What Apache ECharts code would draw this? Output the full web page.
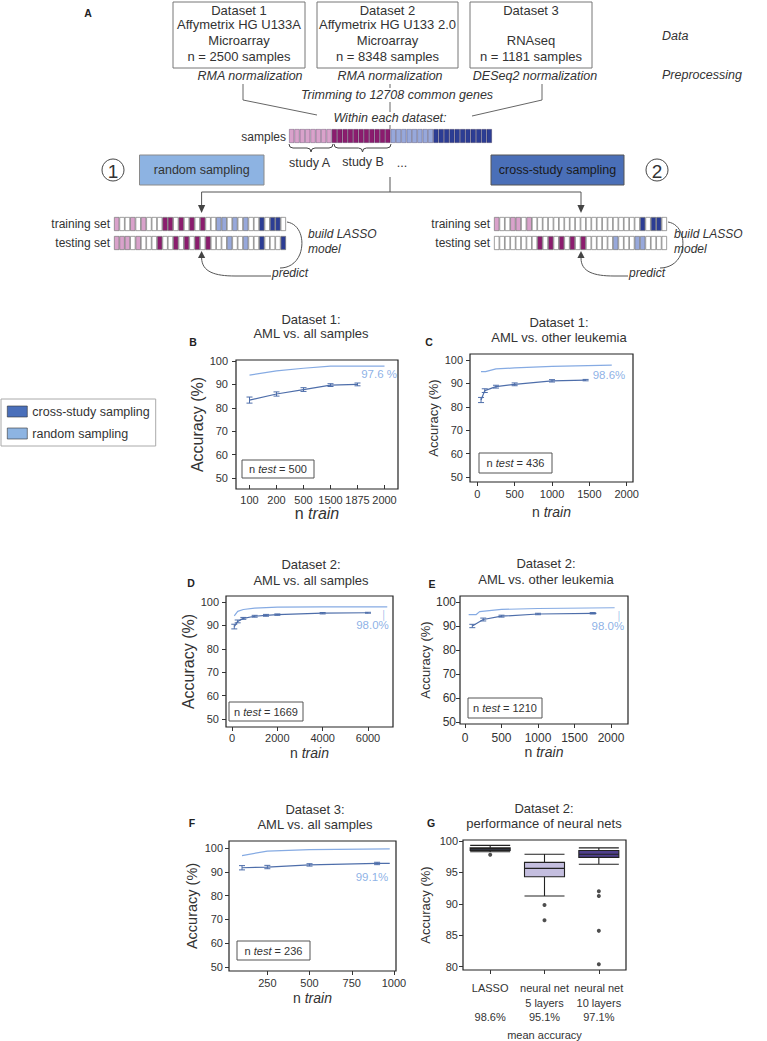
<!DOCTYPE html>
<html>
<head>
<meta charset="utf-8">
<script src="https://cdn.jsdelivr.net/npm/echarts@6.0.0/dist/echarts.min.js"></script>
<style>
html,body{margin:0;padding:0;background:#fff;}
#chart{width:767px;height:1041px;}
</style>
</head>
<body>
<div id="chart"></div>
<script>
// ================= DATA =================
// Panel A texts
const datasetNames   = ['Dataset 1', 'Dataset 2', 'Dataset 3'];
const platforms      = ['Affymetrix HG U133A', 'Affymetrix HG U133 2.0', ''];
const dataTypes      = ['Microarray', 'Microarray', 'RNAseq'];
const sampleCounts   = ['n = 2500 samples', 'n = 8348 samples', 'n = 1181 samples'];
const normalizations = ['RMA normalization', 'RMA normalization', 'DESeq2 normalization'];
// Panel A sample strips (P light pink, M magenta, L light blue, D dark blue, W white)
const samplesCells    = 'PPPPPPPPMMMMMMMMMMMLLLLLLLLDDDDDDDDDDD';
const trainRandCells  = 'PWWPWPWWWMMWMWMWMWWLLWLWLWWDWDDW';
const testRandCells   = 'PPPWPWWWMWWMWMWMWMWWWLWWLWWDWWWD';
const trainCrossCells = 'PWWPPWPWWWWWWWWWWWWWWWWWWWWDWDDW';
const testCrossCells  = 'WWWWWWWWMWMWMWMWMWWWWWLWWWLLWWWW';

// Panel B (category x)
const B_cats = ['100', '200', '500', '1500', '1875', '2000'];
const B_random = [94.0, 95.8, 96.9, 97.8, 97.8, 97.8];
const B_cross = [83.3, 85.9, 87.8, 89.7, 90.0];
const B_crossErr = [1.3, 0.9, 0.8, 0.6, 0.6];
const B_label = '97.6 %', B_ntest = '500';

// Panel C
const C_random = [[50, 95.0], [110, 95.0], [250, 96.2], [500, 96.6], [1000, 97.3], [1800, 97.8]];
const C_cross = [[50, 82.9], [100, 86.9], [250, 88.6], [500, 89.6], [1000, 91.1], [1450, 91.4]];
const C_crossErr = [1.1, 0.8, 0.6, 0.6, 0.5, 0.3];
const C_label = '98.6%', C_ntest = '436';

// Panel D
const D_random = [[100, 94.1], [250, 96.0], [500, 96.8], [1000, 97.4], [2000, 97.8], [4000, 97.9], [6850, 97.9]];
const D_cross = [[100, 89.5], [250, 91.7], [500, 93.0], [1000, 93.9], [1500, 94.3], [2000, 94.6], [4000, 95.2], [6000, 95.4]];
const D_crossErr = [1.0, 0.6, 0.4, 0.4, 0.4, 0.3, 0.3, 0.2];
const D_label = '98.0%', D_ntest = '1669';

// Panel E
const E_random = [[50, 94.7], [150, 94.7], [200, 96.0], [500, 96.9], [1000, 97.3], [2050, 97.6]];
const E_cross = [[100, 90.0], [250, 92.7], [500, 94.1], [1000, 95.0], [1750, 95.3], [1800, 95.3]];
const E_crossErr = [0.7, 0.6, 0.4, 0.3, 0.3, 0];
const E_label = '98.0%', E_ntest = '1210';

// Panel F
const F_random = [[100, 96.8], [250, 98.7], [500, 99.3], [975, 99.6]];
const F_cross = [[100, 91.7], [250, 92.0], [500, 92.9], [900, 93.5], [975, 93.5]];
const F_crossErr = [0.9, 0.7, 0.5, 0.5, 0];
const F_label = '99.1%', F_ntest = '236';

// Panel G
const G_cats = ['LASSO', 'neural net\n5 layers', 'neural net\n10 layers'];
const G_mean = ['98.6%', '95.1%', '97.1%'];
const G_box = [[98.3, 98.5, 98.7, 98.9, 99.3], [91.25, 94.3, 95.65, 96.6, 97.9], [96.3, 97.4, 97.9, 98.5, 98.9]];
const G_out = [[0, 97.8], [1, 89.8], [1, 87.4], [2, 92.0], [2, 91.25], [2, 85.7], [2, 80.4]];

const yTicks = [50, 60, 70, 80, 90, 100];
const G_yTicks = [80, 85, 90, 95, 100];

// ================= STYLE =================
const FONT = 'Liberation Sans';
const CSSFONT = "'Liberation Sans', Arial, sans-serif";
const TXT = '#333';
const LIGHT = '#86abe3';
const DARK = '#4e6eaa';
const LABELC = '#6f9de0';
const CELL = {P: '#d9a2cb', M: '#8b1c6e', L: '#97a8db', D: '#2c3d94', W: '#ffffff'};
const G_colors = ['#5d6890', '#c4bedf', '#4f3f8c'];

const grids = [], xAxis = [], yAxis = [], series = [], g = [];

// ---------- helpers ----------
function T(x, y, text, o) {
  o = o || {};
  const st = {text: text, fill: o.color || TXT,
      font: (o.it ? 'italic ' : '') + (o.b ? 'bold ' : '') + (o.size || 13) + 'px ' + CSSFONT,
      align: o.align || 'center', verticalAlign: 'middle'};
  if (o.rich) st.rich = o.rich;
  return {type: 'text', x: x, y: y, silent: true, z: 20, style: st};
}
function R(x, y, w, h, fill, stroke, lw) {
  return {type: 'rect', silent: true, z: 5, shape: {x: x, y: y, width: w, height: h}, style: {fill: fill, stroke: stroke, lineWidth: lw || 1}};
}
function L(x1, y1, x2, y2, c, lw) {
  return {type: 'line', silent: true, z: 5, shape: {x1: x1, y1: y1, x2: x2, y2: y2}, style: {stroke: c || '#555', lineWidth: lw || 1}};
}
function BZ(x1, y1, cx1, cy1, a, b, c, d, col) {
  const shape = (c === undefined || c === null)
    ? {x1: x1, y1: y1, cpx1: cx1, cpy1: cy1, x2: a, y2: b}
    : {x1: x1, y1: y1, cpx1: cx1, cpy1: cy1, cpx2: a, cpy2: b, x2: c, y2: d};
  return {type: 'bezierCurve', silent: true, z: 5, shape: shape, style: {fill: null, stroke: col || '#555', lineWidth: 1}};
}
function brace(x1, x2, y) {
  const m = (x1 + x2) / 2, c = '#444';
  g.push(BZ(x1, y, x1, y + 4, x1 + 4, y + 4, null, null, c));
  g.push(L(x1 + 4, y + 4, m - 4, y + 4, c));
  g.push(BZ(m - 4, y + 4, m, y + 4, m, y + 8, null, null, c));
  g.push(BZ(m, y + 8, m, y + 4, m + 4, y + 4, null, null, c));
  g.push(L(m + 4, y + 4, x2 - 4, y + 4, c));
  g.push(BZ(x2 - 4, y + 4, x2, y + 4, x2, y, null, null, c));
}
function TRI(pts, c) {
  return {type: 'polygon', silent: true, z: 6, shape: {points: pts}, style: {fill: c || '#444'}};
}
function CIRC(cx, cy, r, label) {
  g.push({type: 'circle', silent: true, z: 5, shape: {cx: cx, cy: cy, r: r}, style: {fill: '#fff', stroke: '#444', lineWidth: 1}});
  g.push(T(cx, cy + 1, label, {size: 19}));
}

function addStrip(left, top, width, height, cells, border) {
  const gi = grids.length;
  grids.push({left: left, top: top, width: width, height: height});
  const arr = cells.split('');
  xAxis.push({gridIndex: gi, type: 'category', data: arr.map(function (c, i) { return i; }), show: false});
  yAxis.push({gridIndex: gi, type: 'value', min: 0, max: 1, show: false});
  series.push({type: 'bar', xAxisIndex: gi, yAxisIndex: gi, barWidth: '100%', silent: true,
    data: arr.map(function (c) { return {value: 1, itemStyle: {color: CELL[c], borderColor: border, borderWidth: 0.7}}; })});
}

function addGrid(rect) {
  const gi = grids.length;
  grids.push({left: rect[0], top: rect[1], width: rect[2], height: rect[3], show: true, borderColor: '#222', borderWidth: 1.2});
  return gi;
}
function plain(v) { return String(v); }
function yAx(gi, min, max, ticks, margin, nameGap, nameSize, labelSize) {
  return {gridIndex: gi, type: 'value', min: min, max: max,
    axisLine: {show: false, onZero: false},
    axisTick: {show: true, length: 4, lineStyle: {color: '#333', width: 1}, customValues: ticks},
    axisLabel: {customValues: ticks, fontSize: labelSize || 11, color: TXT, margin: margin, fontFamily: FONT, formatter: plain},
    splitLine: {show: false},
    name: 'Accuracy (%)', nameLocation: 'middle', nameGap: nameGap,
    nameTextStyle: {fontSize: nameSize || 13, color: TXT, fontFamily: FONT}};
}
function xValAx(gi, min, max, ticks, margin, nameGap, nameSize, labelSize) {
  const ns = nameSize || 14;
  return {gridIndex: gi, type: 'value', min: min, max: max,
    axisLine: {show: false, onZero: false},
    axisTick: {show: true, length: 4, lineStyle: {color: '#333'}, customValues: ticks},
    axisLabel: {customValues: ticks, fontSize: labelSize || 11, color: TXT, margin: margin, fontFamily: FONT, formatter: plain},
    splitLine: {show: false},
    name: 'n {it|train}', nameLocation: 'middle', nameGap: nameGap,
    nameTextStyle: {fontSize: ns, color: TXT, fontFamily: FONT, rich: {it: {fontStyle: 'italic', fontSize: ns, color: TXT, fontFamily: FONT}}}};
}
function lineS(gi, name, data, color, w) {
  return {type: 'line', name: name, xAxisIndex: gi, yAxisIndex: gi, data: data, symbol: 'none', silent: true,
    lineStyle: {color: color, width: w || 1.2}, itemStyle: {color: color}, z: 3};
}
function errS(gi, pts, errs) {
  const data = [];
  pts.forEach(function (p, i) {
    if (errs[i] > 0) data.push([p[0], p[1] - errs[i], p[1] + errs[i]]);
  });
  return {type: 'custom', xAxisIndex: gi, yAxisIndex: gi, data: data, silent: true, z: 4,
    encode: {x: 0, y: [1, 2]},
    renderItem: function (params, api) {
      const x = api.value(0), lo = api.value(1), hi = api.value(2);
      const a = api.coord([x, lo]), b = api.coord([x, hi]);
      const w = 3, st = {stroke: DARK, lineWidth: 1};
      return {type: 'group', children: [
        {type: 'line', shape: {x1: a[0], y1: a[1], x2: b[0], y2: b[1]}, style: st},
        {type: 'line', shape: {x1: a[0] - w, y1: a[1], x2: a[0] + w, y2: a[1]}, style: st},
        {type: 'line', shape: {x1: b[0] - w, y1: b[1], x2: b[0] + w, y2: b[1]}, style: st}]};
    }};
}
function annot(gi, pt, text, off, leader) {
  return {type: 'scatter', xAxisIndex: gi, yAxisIndex: gi, data: [pt], symbolSize: 1, silent: true,
    itemStyle: {color: 'rgba(0,0,0,0)'}, z: 6,
    label: {show: true, formatter: leader ? '{t|│}\n' + text : text, position: off, align: 'right', verticalAlign: 'middle',
      color: LABELC, fontSize: 11.5, fontFamily: FONT, lineHeight: 11,
      rich: {t: {color: LABELC, fontSize: 9, lineHeight: 9, align: 'right', padding: [0, 2, 0, 0]}}}};
}
function ntestBox(x, y, w, h, n) {
  g.push(R(x, y, w, h, '#fff', '#555', 1));
  g.push(T(x + w / 2, y + h / 2, '{a|n }{b|test}{a| = ' + n + '}', {size: 11,
    rich: {a: {fontSize: 11, fill: TXT, fontFamily: FONT}, b: {fontSize: 11, fontStyle: 'italic', fill: TXT, fontFamily: FONT}}}));
}
function titles(cx, y1, y2, t1, t2, letter, lx, ly) {
  g.push(T(cx, y1, t1, {size: 13}));
  g.push(T(cx, y2, t2, {size: 13}));
  g.push(T(lx, ly, letter, {size: 10.5, b: true, color: '#222'}));
}

// ================= PANEL A =================
g.push(T(88, 13, 'A', {size: 10.5, b: true, color: '#222'}));
const boxX = [173, 317, 470], boxW = [132, 141, 122];
for (let i = 0; i < 3; i++) {
  g.push(R(boxX[i], 2, boxW[i], 66, '#fff', '#777'));
  const cx = boxX[i] + boxW[i] / 2;
  g.push(T(cx, 10, datasetNames[i]));
  if (platforms[i]) g.push(T(cx, 24, platforms[i]));
  g.push(T(cx, 40, dataTypes[i]));
  g.push(T(cx, 56, sampleCounts[i]));
}
g.push(T(662, 36, 'Data', {it: true, size: 12.5, align: 'left'}));
g.push(T(662, 75, 'Preprocessing', {it: true, size: 12.5, align: 'left'}));
const normX = [250, 390, 535];
for (let i = 0; i < 3; i++) g.push(T(normX[i], 76, normalizations[i], {it: true, size: 12.5}));
g.push(T(397, 95, 'Trimming to 12708 common genes', {it: true, size: 12.5}));
g.push(L(243, 84, 243, 100, '#666'));
g.push(L(243, 100, 317, 115, '#666'));
g.push(L(542, 84, 542, 100, '#666'));
g.push(L(542, 100, 472, 116, '#666'));
g.push(L(390, 84, 390, 88, '#666'));
g.push(L(390, 102, 390, 112, '#666'));
g.push(L(390, 125, 390, 129, '#666'));
g.push(T(390, 118, 'Within each dataset:', {it: true, size: 12.5}));
g.push(T(286, 137, 'samples', {size: 12, align: 'right'}));
brace(289, 333, 144);
brace(334, 391, 144);
g.push(T(309.5, 163, 'study A', {size: 12.5}));
g.push(T(363, 162, 'study B', {size: 12.5}));
g.push(T(402, 163, '...', {size: 12.5}));
CIRC(113, 170, 11, '1');
CIRC(657, 170, 11, '2');
g.push(R(139.5, 155, 124.5, 30, '#8db3e2', '#8a8a8a'));
g.push(T(201.75, 170, 'random sampling', {size: 12.5}));
g.push(R(491, 155, 133, 30, '#4a6fb8', '#555'));
g.push(T(557.5, 170, 'cross-study sampling', {size: 12.5, color: '#1a1a1a'}));
g.push(L(390, 177, 390, 192, '#555'));
g.push(L(201.6, 192, 581, 192, '#555'));
g.push(L(201.6, 192, 201.6, 206, '#555'));
g.push(L(581, 192, 581, 206, '#555'));
g.push(TRI([[198, 205], [205.2, 205], [201.6, 213]]));
g.push(TRI([[577.4, 205], [584.6, 205], [581, 213]]));

g.push(T(110, 224, 'training set', {size: 12, align: 'right'}));
g.push(T(110, 243, 'testing set', {size: 12, align: 'right'}));
g.push(T(490, 224, 'training set', {size: 12, align: 'right'}));
g.push(T(490, 243, 'testing set', {size: 12, align: 'right'}));
g.push(T(308, 234, 'build LASSO', {size: 12, it: true, align: 'left'}));
g.push(T(308, 249, 'model', {size: 12, it: true, align: 'left'}));
g.push(T(674, 234, 'build LASSO', {size: 12, it: true, align: 'left'}));
g.push(T(674, 249, 'model', {size: 12, it: true, align: 'left'}));
g.push(T(272, 273, 'predict', {size: 12, it: true, align: 'left'}));
g.push(T(629, 273, 'predict', {size: 12, it: true, align: 'left'}));
g.push(BZ(287, 222, 300, 224, 305, 240, 300, 254));
g.push(BZ(300, 254, 296, 264, 288, 268, 280, 268));
g.push(BZ(201.6, 258, 202, 272, 215, 276, 235, 276));
g.push(L(235, 276, 271, 276));
g.push(TRI([[198, 258], [205.2, 258], [201.6, 251]]));
g.push(BZ(668, 222, 681, 224, 686, 240, 681, 254));
g.push(BZ(681, 254, 677, 264, 668, 268, 660, 268));
g.push(BZ(581, 258, 581, 272, 594, 276, 614, 276));
g.push(L(614, 276, 628, 276));
g.push(TRI([[577.4, 258], [584.6, 258], [581, 251]]));

addStrip(289, 129, 203, 14, samplesCells, 'rgba(40,30,60,0.45)');
addStrip(114, 217, 172, 14, trainRandCells, '#777');
addStrip(114, 236, 172, 14, testRandCells, '#777');
addStrip(494, 217, 173, 14, trainCrossCells, '#777');
addStrip(494, 236, 173, 14, testCrossCells, '#777');

// ================= PANEL B =================
let gi = addGrid([236, 360, 162, 129]);
xAxis.push({gridIndex: gi, type: 'category', data: B_cats, boundaryGap: true,
  axisLine: {show: false, onZero: false},
  axisTick: {show: true, inside: true, alignWithLabel: true, length: 4, lineStyle: {color: '#333'}},
  axisLabel: {fontSize: 11, color: TXT, margin: 5, fontFamily: FONT, interval: 0},
  splitLine: {show: false},
  name: 'n {it|train}', nameLocation: 'middle', nameGap: 15,
  nameTextStyle: {fontSize: 16, color: TXT, fontFamily: FONT, rich: {it: {fontStyle: 'italic', fontSize: 16, color: TXT, fontFamily: FONT}}}});
yAxis.push(yAx(gi, 45.3, 100.43, yTicks, 8, 30, 16));
series.push(lineS(gi, 'random sampling', B_random, LIGHT));
series.push(lineS(gi, 'cross-study sampling', B_cross, DARK));
series.push(errS(gi, B_cross.map(function (v, i) { return [i, v]; }), B_crossErr));
series.push(annot(gi, [5, 97.8], B_label, [13, 8]));
titles(311, 319, 333, 'Dataset 1:', 'AML vs. all samples', 'B', 193, 342);
ntestBox(242, 460, 72, 18, B_ntest);

// ================= PANEL C =================
gi = addGrid([470, 354, 163, 128]);
xAxis.push(xValAx(gi, -97.7, 2084, [0, 500, 1000, 1500, 2000], 6, 23));
yAxis.push(yAx(gi, 47.86, 102.56, yTicks, 7, 30));
series.push(lineS(gi, 'random sampling', C_random, LIGHT));
series.push(lineS(gi, 'cross-study sampling', C_cross, DARK));
series.push(errS(gi, C_cross, C_crossErr));
series.push(annot(gi, [1800, 97.8], C_label, [14, 10]));
titles(559, 322, 337, 'Dataset 1:', 'AML vs. other leukemia', 'C', 429, 342);
ntestBox(479, 453, 73, 20, C_ntest);

// ================= PANEL D =================
gi = addGrid([226, 596, 167, 131]);
xAxis.push(xValAx(gi, -265, 7103, [0, 2000, 4000, 6000], 5, 19));
yAxis.push(yAx(gi, 46.58, 102.56, yTicks, 7, 25, 16));
series.push(lineS(gi, 'random sampling', D_random, LIGHT));
series.push(lineS(gi, 'cross-study sampling', D_cross, DARK));
series.push(errS(gi, D_cross, D_crossErr));
series.push(annot(gi, [6850, 97.9], D_label, [2, 14], true));
titles(311, 564, 580, 'Dataset 2:', 'AML vs. all samples', 'D', 191, 583);
ntestBox(229, 702, 74, 19, D_ntest);

// ================= PANEL E =================
gi = addGrid([460, 596, 168, 128]);
xAxis.push(xValAx(gi, -68.5, 2233, [0, 500, 1000, 1500, 2000], 8, 21, 14, 12));
yAxis.push(yAx(gi, 49.17, 102.5, yTicks, 4, 25, 13, 12));
series.push(lineS(gi, 'random sampling', E_random, LIGHT));
series.push(lineS(gi, 'cross-study sampling', E_cross, DARK));
series.push(errS(gi, E_cross, E_crossErr));
series.push(annot(gi, [2050, 97.6], E_label, [10, 14], true));
titles(546, 563, 579, 'Dataset 2:', 'AML vs. other leukemia', 'E', 432, 584);
ntestBox(468, 698, 74, 20, E_ntest);

// ================= PANEL F =================
gi = addGrid([229, 841, 167, 130]);
xAxis.push(xValAx(gi, 23, 1012, [250, 500, 750, 1000], 6, 20));
yAxis.push(yAx(gi, 48.32, 102.94, yTicks, 6, 30, 14.5));
series.push(lineS(gi, 'random sampling', F_random, LIGHT));
series.push(lineS(gi, 'cross-study sampling', F_cross, DARK));
series.push(errS(gi, F_cross, F_crossErr));
series.push(annot(gi, [975, 99.6], F_label, [-1, 29]));
titles(315, 809, 824, 'Dataset 3:', 'AML vs. all samples', 'F', 192, 823);
ntestBox(237, 941, 73, 19, F_ntest);

// ================= PANEL G =================
gi = addGrid([463, 840, 163, 130]);
xAxis.push({gridIndex: gi, type: 'category', data: G_cats, boundaryGap: true,
  axisLine: {show: false, onZero: false},
  axisTick: {show: true, alignWithLabel: true, length: 4, lineStyle: {color: '#333'}},
  axisLabel: {fontSize: 11, color: TXT, margin: 11, lineHeight: 14.5, fontFamily: FONT, interval: 0,
    formatter: function (v, i) { return v + (i === 0 ? '\n \n' : '\n') + G_mean[i]; }},
  splitLine: {show: false},
  name: 'mean accuracy', nameLocation: 'middle', nameGap: 59,
  nameTextStyle: {fontSize: 11, color: TXT, fontFamily: FONT}});
yAxis.push(yAx(gi, 79.47, 100.16, G_yTicks, 5, 31));
series.push({type: 'boxplot', xAxisIndex: gi, yAxisIndex: gi, boxWidth: [40, 40], silent: true,
  data: G_box.map(function (d, i) { return {value: d, itemStyle: {color: G_colors[i], borderColor: '#222', borderWidth: 1.1}}; })});
series.push({type: 'scatter', xAxisIndex: gi, yAxisIndex: gi, data: G_out, symbolSize: 4, silent: true,
  itemStyle: {color: '#222'}});
titles(544, 808, 823, 'Dataset 2:', 'performance of neural nets', 'G', 431, 823);

// ================= OPTION =================
const option = {
  animation: false,
  textStyle: {fontFamily: FONT},
  legend: {
    left: 1, top: 399, orient: 'vertical', icon: 'rect', itemWidth: 20, itemHeight: 11, itemGap: 9,
    padding: [6, 6, 6, 6], borderColor: '#aaa', borderWidth: 1, selectedMode: false,
    textStyle: {fontSize: 12.5, color: TXT, fontFamily: FONT},
    data: [
      {name: 'cross-study sampling', itemStyle: {color: '#4a6fba', borderColor: '#333', borderWidth: 0.6}},
      {name: 'random sampling', itemStyle: {color: '#8db4e2', borderColor: '#333', borderWidth: 0.6}}
    ]
  },
  grid: grids,
  xAxis: xAxis,
  yAxis: yAxis,
  series: series,
  graphic: {elements: g}
};
const chart = echarts.init(document.getElementById('chart'), null, {renderer: 'svg'});
chart.setOption(option);
</script>
</body>
</html>
